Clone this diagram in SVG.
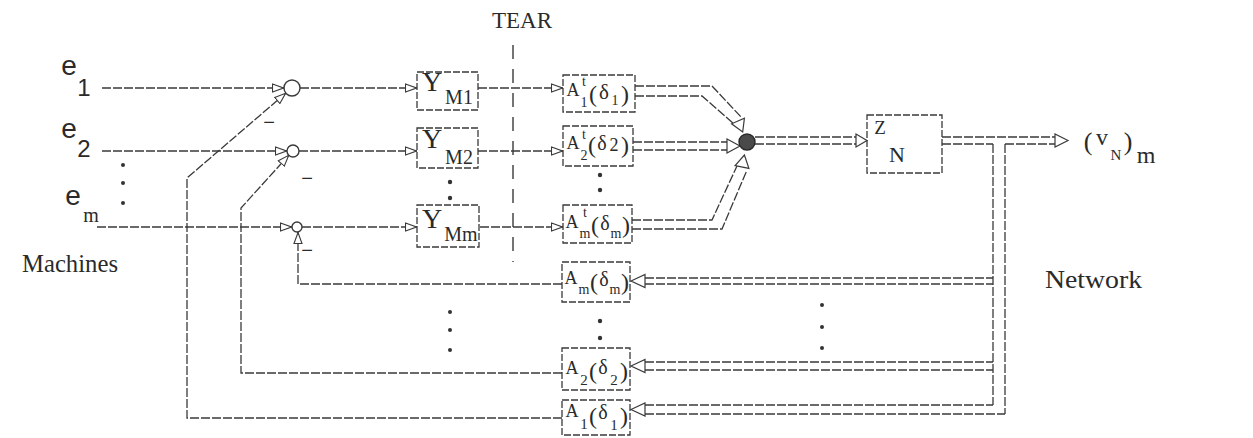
<svg xmlns="http://www.w3.org/2000/svg" width="1253" height="438" viewBox="0 0 1253 438">
<defs>
<style>
.ln{fill:none;stroke:#3a3a3a;stroke-width:1.3;stroke-dasharray:9 2}
.bx{fill:none;stroke:#3a3a3a;stroke-width:1.3;stroke-dasharray:7 2}
.ah{fill:#fff;stroke:#3a3a3a;stroke-width:1.2}
.dot{fill:#333}
.m{font-family:"Liberation Serif","DejaVu Serif",serif;fill:#2a2a2a}
.s{font-family:"Liberation Sans","DejaVu Sans",sans-serif;fill:#2a2a2a}
.tear{fill:none;stroke:#3a3a3a;stroke-width:1.4;stroke-dasharray:14 10}
</style>
<marker id="arr" viewBox="0 0 12 10" refX="12" refY="5" markerWidth="12" markerHeight="10" markerUnits="userSpaceOnUse" orient="auto">
<path d="M0.5,1 L11.5,5 L0.5,9 z" fill="#fff" stroke="#3a3a3a" stroke-width="1.1"/>
</marker>
</defs>
<rect width="1253" height="438" fill="#fff"/>

<g id="labels">
<text class="s" font-size="28" x="69" y="75" text-anchor="middle">e</text>
<text class="s" font-size="24" x="84" y="96" text-anchor="middle">1</text>
<text class="s" font-size="28" x="69" y="138" text-anchor="middle">e</text>
<text class="s" font-size="24" x="84" y="157" text-anchor="middle">2</text>
<text class="s" font-size="28" x="73" y="205" text-anchor="middle">e</text>
<text class="m" font-size="20" x="91" y="222" text-anchor="middle">m</text>
<text class="m" font-size="25" x="22" y="272" textLength="96" lengthAdjust="spacingAndGlyphs">Machines</text>
<text class="m" font-size="26" x="1045" y="288" textLength="97" lengthAdjust="spacingAndGlyphs">Network</text>
<text class="m" font-size="23" x="522" y="28" text-anchor="middle">TEAR</text>
<text class="s" font-size="20" x="269" y="129" text-anchor="middle">−</text>
<text class="s" font-size="20" x="307" y="185" text-anchor="middle">−</text>
<text class="s" font-size="20" x="307" y="257" text-anchor="middle">−</text>
<text class="m" text-anchor="middle"><tspan x="1088" y="150" font-size="26">(</tspan><tspan x="1102" y="145" font-size="24">v</tspan><tspan x="1116" y="160" font-size="15">N</tspan><tspan x="1128" y="150" font-size="26">)</tspan><tspan x="1146" y="163" font-size="24">m</tspan></text>
</g>

<g id="dots">
<circle class="dot" cx="123" cy="165" r="2"/><circle class="dot" cx="123" cy="183" r="2"/><circle class="dot" cx="123" cy="203" r="2"/>
<circle class="dot" cx="450" cy="182" r="2.2"/><circle class="dot" cx="450" cy="198" r="2.2"/>
<circle class="dot" cx="600" cy="175" r="2.2"/><circle class="dot" cx="600" cy="190" r="2.2"/>
<circle class="dot" cx="600" cy="321" r="2.2"/><circle class="dot" cx="600" cy="338" r="2.2"/>
<circle class="dot" cx="450" cy="312" r="2"/><circle class="dot" cx="450" cy="330" r="2"/><circle class="dot" cx="450" cy="350" r="2"/>
<circle class="dot" cx="822" cy="305" r="2"/><circle class="dot" cx="822" cy="327" r="2"/><circle class="dot" cx="822" cy="348" r="2"/>
</g>

<g id="tear-line"><line class="tear" x1="513" y1="45" x2="513" y2="262"/></g>

<g id="connectors">
<path class="ln" d="M102,88 H284" marker-end="url(#arr)"/>
<path class="ln" d="M300,88 H417" marker-end="url(#arr)"/>
<path class="ln" d="M478,88 H563" marker-end="url(#arr)"/>
<path class="ln" d="M102,151 H287" marker-end="url(#arr)"/>
<path class="ln" d="M299,151 H417" marker-end="url(#arr)"/>
<path class="ln" d="M478,151 H563" marker-end="url(#arr)"/>
<path class="ln" d="M97,227 H292" marker-end="url(#arr)"/>
<path class="ln" d="M302,227 H417" marker-end="url(#arr)"/>
<path class="ln" d="M480,227 H563" marker-end="url(#arr)"/>
<path class="ln" d="M562,284 H298 V232" marker-end="url(#arr)"/>
<path class="ln" d="M562,373 H241 V208 L289,155" marker-end="url(#arr)"/>
<path class="ln" d="M562,418 H187 V178 L286,93" marker-end="url(#arr)"/>
<path class="ln" d="M635,86 H712 L742,118 M635,96 H702 L734,124"/>
<polygon class="ah" points="742.7,132 744.4,118.2 731.6,123.8"/>
<path class="ln" d="M633,142 H727 M633,150 H727"/>
<polygon class="ah" points="740,146 727,139 727,153"/>
<path class="ln" d="M632,220 H712 L737,166 M632,229 H722 L747,170"/>
<polygon class="ah" points="744.4,155 748.9,168.4 735.1,165.6"/>
<path class="ln" d="M755,137 H856 M755,144 H856"/>
<polygon class="ah" points="867,140.5 856,134 856,147"/>
<path class="ln" d="M942,137 H1055 M942,144 H993 M1005,144 H1055 M993,144 V405 M1005,144 V414"/>
<polygon class="ah" points="1068,140.5 1055,134 1055,147"/>
<path class="ln" d="M645,278 H993 M645,284 H993"/>
<polygon class="ah" points="631,281 645,274.5 645,287.5"/>
<path class="ln" d="M645,362 H993 M645,370 H993"/>
<polygon class="ah" points="631,366 645,359.5 645,372.5"/>
<path class="ln" d="M645,405 H993 M645,414 H1005"/>
<polygon class="ah" points="631,409.5 645,403 645,416"/>
</g>

<g id="sum1"><circle cx="292" cy="88" r="8" fill="#fff" stroke="#3a3a3a" stroke-width="1.4"/></g>
<g id="sum2"><circle cx="293" cy="151" r="6" fill="#fff" stroke="#3a3a3a" stroke-width="1.4"/></g>
<g id="summ"><circle cx="297" cy="227" r="5" fill="#fff" stroke="#3a3a3a" stroke-width="1.4"/></g>

<g id="ym1"><rect class="bx" x="417" y="72" width="61" height="38"/>
<text class="m" text-anchor="middle"><tspan x="432" y="91" font-size="28">Y</tspan><tspan x="459" y="104" font-size="20">M1</tspan></text></g>
<g id="ym2"><rect class="bx" x="417" y="128" width="61" height="40"/>
<text class="m" text-anchor="middle"><tspan x="432" y="148" font-size="28">Y</tspan><tspan x="459" y="164" font-size="20">M2</tspan></text></g>
<g id="ymm"><rect class="bx" x="417" y="205" width="62" height="42"/>
<text class="m" text-anchor="middle"><tspan x="432" y="228" font-size="28">Y</tspan><tspan x="461" y="241" font-size="20">Mm</tspan></text></g>

<g id="at1"><rect class="bx" x="563" y="75" width="72" height="37"/>
<text class="m" text-anchor="middle"><tspan x="573" y="96" font-size="18">A</tspan><tspan x="584" y="86" font-size="14">t</tspan><tspan x="584" y="107" font-size="14">1</tspan><tspan x="593" y="102" font-size="24">(</tspan><tspan x="604" y="99" font-size="21">δ</tspan><tspan x="615" y="105" font-size="14">1</tspan><tspan x="625" y="102" font-size="24">)</tspan></text></g>
<g id="at2"><rect class="bx" x="563" y="126" width="70" height="40"/>
<text class="m" text-anchor="middle"><tspan x="573" y="149" font-size="18">A</tspan><tspan x="584" y="139" font-size="14">t</tspan><tspan x="584" y="160" font-size="14">2</tspan><tspan x="592" y="153" font-size="24">(</tspan><tspan x="602" y="150" font-size="20">δ</tspan><tspan x="614" y="151" font-size="18">2</tspan><tspan x="625" y="153" font-size="24">)</tspan></text></g>
<g id="atm"><rect class="bx" x="563" y="205" width="69" height="38"/>
<text class="m" text-anchor="middle"><tspan x="572" y="228" font-size="18">A</tspan><tspan x="585" y="217" font-size="14">t</tspan><tspan x="585" y="238" font-size="14">m</tspan><tspan x="595" y="233" font-size="24">(</tspan><tspan x="605" y="230" font-size="20">δ</tspan><tspan x="616" y="238" font-size="14">m</tspan><tspan x="626" y="233" font-size="24">)</tspan></text></g>

<g id="node"><circle cx="747" cy="142" r="8" fill="#4a4a4a" stroke="#2a2a2a" stroke-width="1.4"/></g>

<g id="zn"><rect class="bx" x="867" y="115" width="75" height="58"/>
<text class="m" text-anchor="middle"><tspan x="880" y="134" font-size="19">Z</tspan><tspan x="897" y="162" font-size="22">N</tspan></text></g>

<g id="am"><rect class="bx" x="562" y="262" width="68" height="40"/>
<text class="m" text-anchor="middle"><tspan x="571" y="284" font-size="18">A</tspan><tspan x="584" y="294" font-size="14">m</tspan><tspan x="594" y="290" font-size="24">(</tspan><tspan x="604" y="286" font-size="20">δ</tspan><tspan x="615" y="294" font-size="14">m</tspan><tspan x="625" y="290" font-size="24">)</tspan></text></g>
<g id="a2"><rect class="bx" x="562" y="348" width="68" height="42"/>
<text class="m" text-anchor="middle"><tspan x="572" y="374" font-size="18">A</tspan><tspan x="584" y="385" font-size="15">2</tspan><tspan x="593" y="379" font-size="24">(</tspan><tspan x="603" y="374" font-size="20">δ</tspan><tspan x="614" y="385" font-size="15">2</tspan><tspan x="624" y="379" font-size="24">)</tspan></text></g>
<g id="a1"><rect class="bx" x="562" y="400" width="68" height="35"/>
<text class="m" text-anchor="middle"><tspan x="572" y="417" font-size="18">A</tspan><tspan x="584" y="429" font-size="15">1</tspan><tspan x="593" y="424" font-size="24">(</tspan><tspan x="603" y="419" font-size="20">δ</tspan><tspan x="614" y="430" font-size="15">1</tspan><tspan x="624" y="424" font-size="24">)</tspan></text></g>
</svg>
